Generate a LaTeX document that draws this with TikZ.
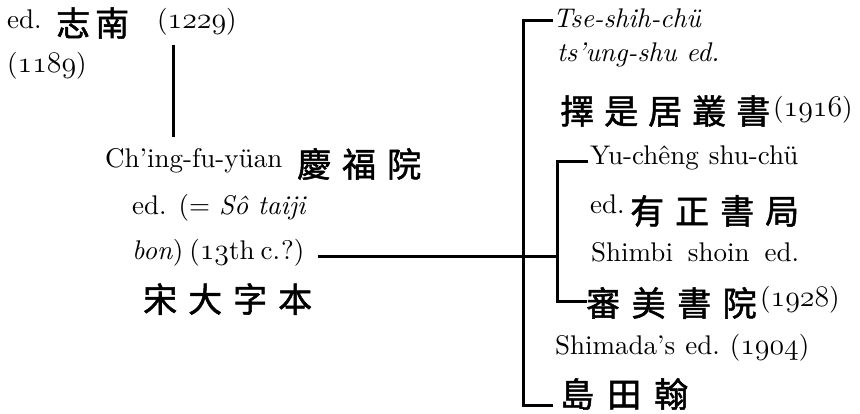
\documentclass[tikz,border=0pt]{standalone}
\usepackage{fontspec}
\setmainfont{Latin Modern Roman}[OpticalSize=10]
\newfontfamily\cjk{Noto Sans CJK TC}[FakeBold=1.5]
\newcommand\osn[1]{\scalebox{1.2}{\fontencoding{OML}\fontfamily{lmm}\fontseries{m}\fontshape{it}\selectfont #1}}
\newcommand\hg[1]{\hspace{#1pt}}
\begin{document}
\begin{tikzpicture}[x=1pt,y=-1pt,
  lat/.style={anchor=base west,inner sep=0pt,font=\fontsize{27}{32}\selectfont},
  han/.style={anchor=west,inner sep=0pt,font=\cjk\fontsize{34}{40}\selectfont},
  ln/.style={line width=3pt}]
\useasboundingbox (0,0) rectangle (860,414);
% left column
\node[lat] (ed1) at (7,29) {ed.};
\node[han] (zn) at (56,23) {志\hg{5}南};
\node[lat] (y1229) at (157,29) {(\osn{1229})};
\node[lat] (y1189) at (7,73) {(\osn{1189})};
\node[lat] (chfy) at (105,168) {Ch’ing-fu-yüan};
\node[han] (qfy) at (297,164) {慶\hg{11}福\hg{11}院};
\node[lat] (sot) at (132,215) {ed. (= \textit{Sô taiji}};
\node[lat] (bon) at (132,260) {\textit{bon})\hspace{6pt}(\osn{13}th\hspace{6pt}c.\kern1pt?)};
\node[han] (sdz) at (143,299) {宋\hg{11}大\hg{11}字\hg{11}本};
% right column
\node[lat] (tse) at (553,28) {\textit{Tse-shih-chü}};
\node[lat] (tsu) at (557,62) {\textit{ts’ung-shu ed.}};
\node[han] (zsj) at (560,111) {擇\hg{10}是\hg{10}居\hg{10}叢\hg{10}書};
\node[lat] (y1916) at (773,117) {(\osn{1916})};
\node[lat] (yuc) at (590,165) {Yu-chêng\hspace{10pt}shu-chü};
\node[lat] (ed2) at (590,214) {ed.};
\node[han] (yzs) at (630,211) {有\hg{11}正\hg{11}書\hg{11}局};
\node[lat] (shb) at (591,262) {Shimbi\hspace{15pt}shoin\hspace{15pt}ed.};
\node[han] (smy) at (586,303) {審\hg{11.5}美\hg{11.5}書\hg{11.5}院};
\node[lat] (y1928) at (760,307) {(\osn{1928})};
\node[lat] (smd) at (555,354) {Shimada’s\hspace{10pt}ed.\hspace{10pt}(\osn{1904})};
\node[han] (sdh) at (560,394) {島\hg{13}田\hg{13}翰};
% connectors
\coordinate (v1t) at (173,45);
\coordinate (v1b) at (173,137);
\draw[ln] (v1t) -- (v1b);
\coordinate (ob1) at (553,21);
\coordinate (ob2) at (523,21);
\coordinate (ob3) at (523,405);
\coordinate (ob4) at (553,405);
\draw[ln] (ob1) -- (ob2) -- (ob3) -- (ob4);
\coordinate (ib1) at (588,162);
\coordinate (ib2) at (557,162);
\coordinate (ib3) at (557,302);
\coordinate (ib4) at (587,302);
\draw[ln] (ib1) -- (ib2) -- (ib3) -- (ib4);
\coordinate (hs) at (318,257);
\draw[ln] (hs) -- (hs -| ib2);
\end{tikzpicture}
\end{document}
